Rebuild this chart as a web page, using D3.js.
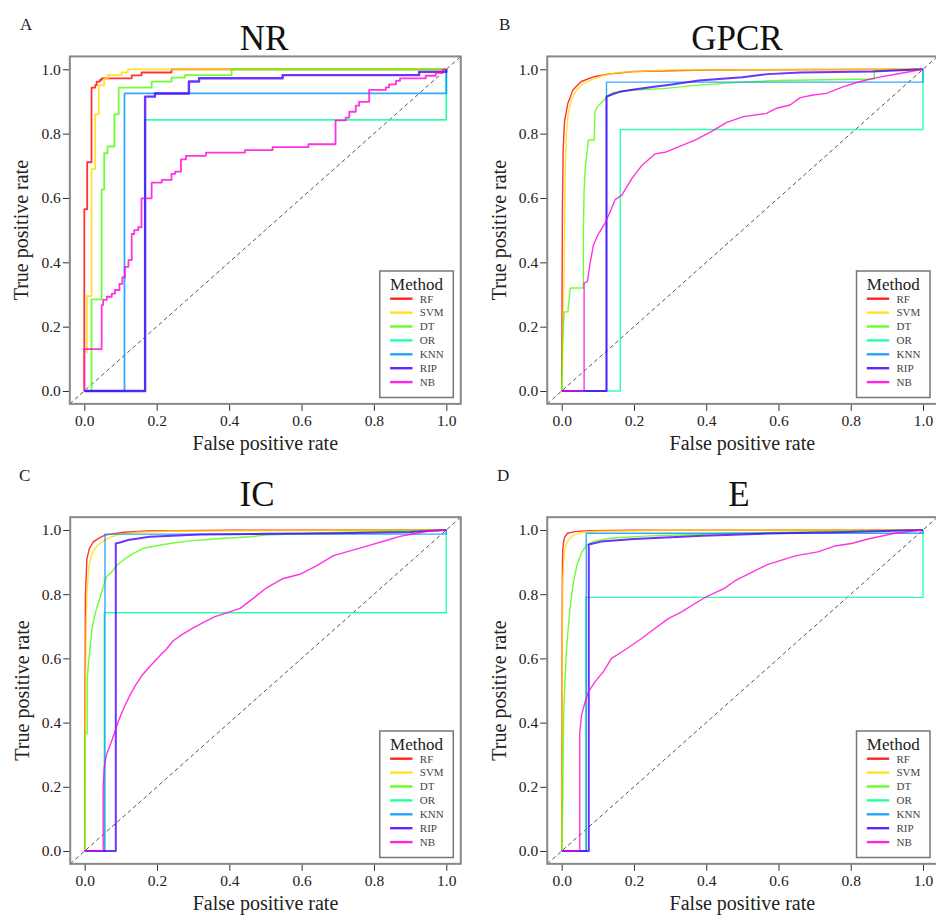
<!DOCTYPE html>
<html>
<head>
<meta charset="utf-8">
<script src="https://cdn.jsdelivr.net/npm/d3@7"></script>
<style>
  html, body { margin: 0; padding: 0; background: #fff; }
  svg text { font-family: "Liberation Serif", "Times New Roman", serif; }
</style>
</head>
<body>
<div id="chart"></div>
<script>
// methods and colours (R rainbow(7))
const methods = ['RF', 'SVM', 'DT', 'OR', 'KNN', 'RIP', 'NB']
const colors = ['#FF0000', '#FFDB00', '#49FF00', '#00FF92', '#0092FF', '#4900FF', '#FF00DB']
const tickValues = [0, 0.2, 0.4, 0.6, 0.8, 1.0]

// A. NR  (fpr, tpr)
const NR_RF = [[0,0],[0,0.565],[0.008,0.565],[0.008,0.711],[0.02,0.711],[0.02,0.943],[0.03,0.943],[0.03,0.951],[0.034,0.951],[0.034,0.962],[0.043,0.962],[0.043,0.967],[0.048,0.967],[0.048,0.972],[0.131,0.972],[0.131,0.981],[0.158,0.981],[0.158,0.99],[0.241,0.99],[0.241,1],[1,1]]
const NR_SVM = [[0,0],[0,0.12],[0.007,0.12],[0.007,0.295],[0.02,0.295],[0.02,0.69],[0.03,0.69],[0.03,0.86],[0.04,0.86],[0.04,0.95],[0.055,0.95],[0.055,0.97],[0.065,0.97],[0.065,0.982],[0.103,0.982],[0.103,0.99],[0.12,0.99],[0.12,1],[1,1]]
const NR_DT = [[0,0],[0.02,0],[0.02,0.285],[0.048,0.285],[0.048,0.627],[0.055,0.627],[0.055,0.739],[0.064,0.739],[0.064,0.76],[0.083,0.76],[0.083,0.86],[0.095,0.86],[0.095,0.943],[0.186,0.943],[0.186,0.962],[0.241,0.962],[0.241,0.974],[0.278,0.974],[0.278,0.982],[0.407,0.982],[0.407,1],[1,1]]
const NR_OR = [[0,0],[0.168,0],[0.168,0.843],[1,0.843],[1,1]]
const NR_KNN = [[0,0],[0.111,0],[0.111,0.925],[1,0.925],[1,1]]
const NR_RIP = [[0,0],[0.168,0],[0.168,0.915],[0.195,0.915],[0.195,0.925],[0.289,0.925],[0.289,0.962],[0.317,0.962],[0.317,0.972],[0.548,0.972],[0.548,0.982],[0.925,0.982],[0.925,0.992],[1,0.992],[1,1]]
const NR_NB = [[0,0],[0,0.13],[0.048,0.13],[0.048,0.267],[0.052,0.267],[0.052,0.283],[0.062,0.283],[0.062,0.293],[0.076,0.293],[0.076,0.303],[0.085,0.303],[0.085,0.314],[0.097,0.314],[0.097,0.333],[0.105,0.333],[0.105,0.353],[0.112,0.353],[0.112,0.386],[0.122,0.386],[0.122,0.407],[0.131,0.407],[0.131,0.488],[0.138,0.488],[0.138,0.5],[0.149,0.5],[0.149,0.509],[0.158,0.509],[0.158,0.599],[0.186,0.599],[0.186,0.648],[0.214,0.648],[0.214,0.656],[0.241,0.656],[0.241,0.675],[0.251,0.675],[0.251,0.682],[0.267,0.682],[0.267,0.72],[0.281,0.72],[0.281,0.731],[0.336,0.731],[0.336,0.741],[0.444,0.741],[0.444,0.749],[0.52,0.749],[0.52,0.758],[0.619,0.758],[0.619,0.767],[0.694,0.767],[0.694,0.841],[0.722,0.841],[0.722,0.85],[0.732,0.85],[0.732,0.868],[0.75,0.868],[0.75,0.887],[0.759,0.887],[0.759,0.899],[0.787,0.899],[0.787,0.936],[0.833,0.936],[0.833,0.944],[0.842,0.944],[0.842,0.953],[0.861,0.953],[0.861,0.964],[0.872,0.964],[0.872,0.972],[0.943,0.972],[0.943,0.98],[0.971,0.98],[0.971,0.989],[0.99,0.989],[0.99,0.998],[1,1]]

// B. GPCR
const GPCR_RF = [[0,0],[0.001,0.3],[0.002,0.57],[0.004,0.75],[0.008,0.84],[0.017,0.894],[0.031,0.936],[0.054,0.962],[0.09,0.977],[0.128,0.985],[0.2,0.993],[0.4,0.998],[1,1]]
const GPCR_SVM = [[0,0],[0.002,0.05],[0.004,0.18],[0.008,0.49],[0.01,0.7],[0.013,0.8],[0.018,0.863],[0.027,0.905],[0.041,0.936],[0.059,0.956],[0.082,0.967],[0.11,0.979],[0.156,0.99],[0.294,0.998],[1,1]]
const GPCR_DT = [[0,0],[0.002,0.15],[0.007,0.246],[0.017,0.246],[0.024,0.32],[0.06,0.32],[0.06,0.5],[0.062,0.62],[0.065,0.69],[0.074,0.78],[0.09,0.78],[0.092,0.868],[0.1,0.885],[0.125,0.913],[0.14,0.927],[0.19,0.935],[0.28,0.94],[0.37,0.95],[0.5,0.96],[0.6,0.965],[0.865,0.97],[0.865,0.995],[1,1]]
const GPCR_OR = [[0,0],[0.162,0],[0.162,0.813],[1,0.813],[1,1]]
const GPCR_KNN = [[0,0],[0.124,0],[0.124,0.96],[1,0.96],[1,1]]
const GPCR_RIP = [[0,0],[0.124,0],[0.124,0.915],[0.135,0.92],[0.16,0.93],[0.2,0.937],[0.25,0.945],[0.3,0.952],[0.38,0.965],[0.5,0.975],[0.57,0.985],[0.66,0.99],[0.86,0.993],[1,1]]
const GPCR_NB = [[0,0],[0.062,0],[0.062,0.335],[0.071,0.34],[0.079,0.4],[0.088,0.454],[0.1,0.485],[0.12,0.522],[0.138,0.567],[0.148,0.595],[0.166,0.608],[0.194,0.66],[0.221,0.7],[0.258,0.737],[0.286,0.742],[0.323,0.759],[0.369,0.78],[0.415,0.807],[0.457,0.835],[0.503,0.853],[0.567,0.863],[0.595,0.879],[0.632,0.889],[0.66,0.912],[0.696,0.92],[0.733,0.925],[0.78,0.946],[0.826,0.962],[0.872,0.974],[0.936,0.987],[1,1]]

// C. IC
const IC_RF = [[0,0],[0.001,0.5],[0.002,0.8],[0.004,0.85],[0.006,0.91],[0.013,0.943],[0.024,0.963],[0.038,0.974],[0.056,0.984],[0.1,0.992],[0.17,0.997],[0.4,0.999],[1,1]]
const IC_SVM = [[0,0],[0.002,0.37],[0.004,0.7],[0.006,0.79],[0.009,0.85],[0.012,0.89],[0.02,0.925],[0.033,0.95],[0.052,0.966],[0.075,0.979],[0.1,0.987],[0.145,0.993],[0.25,0.997],[1,1]]
const IC_DT = [[0,0],[0,0.367],[0.007,0.367],[0.007,0.53],[0.01,0.58],[0.015,0.632],[0.019,0.684],[0.026,0.725],[0.033,0.756],[0.042,0.788],[0.05,0.819],[0.061,0.855],[0.075,0.87],[0.089,0.89],[0.112,0.911],[0.135,0.927],[0.162,0.943],[0.199,0.951],[0.236,0.958],[0.291,0.966],[0.347,0.971],[0.402,0.975],[0.457,0.979],[0.5,0.984],[0.69,0.992],[1,1]]
const IC_OR = [[0,0],[0.054,0],[0.054,0.742],[1,0.742],[1,1]]
const IC_KNN = [[0,0],[0.056,0],[0.056,0.987],[1,0.987],[1,1]]
const IC_RIP = [[0,0],[0.086,0],[0.086,0.958],[0.1,0.962],[0.12,0.969],[0.18,0.979],[0.32,0.986],[0.5,0.988],[0.7,0.99],[0.9,0.994],[1,1]]
const IC_NB = [[0,0],[0.051,0],[0.051,0.2],[0.054,0.26],[0.06,0.3],[0.072,0.335],[0.083,0.37],[0.095,0.41],[0.11,0.45],[0.125,0.485],[0.14,0.515],[0.157,0.545],[0.18,0.575],[0.205,0.605],[0.227,0.63],[0.245,0.655],[0.27,0.675],[0.3,0.695],[0.33,0.713],[0.36,0.73],[0.393,0.742],[0.43,0.756],[0.466,0.787],[0.503,0.82],[0.549,0.849],[0.595,0.862],[0.641,0.888],[0.688,0.92],[0.734,0.935],[0.78,0.95],[0.826,0.965],[0.872,0.98],[0.918,0.99],[0.95,0.997],[1,1]]

// D. E
const E_RF = [[0,0],[0.001,0.6],[0.002,0.9],[0.003,0.94],[0.005,0.96],[0.008,0.978],[0.016,0.99],[0.037,0.995],[0.074,0.998],[0.2,0.999],[1,1]]
const E_SVM = [[0,0],[0.001,0.3],[0.002,0.7],[0.003,0.84],[0.005,0.9],[0.009,0.943],[0.018,0.968],[0.032,0.984],[0.055,0.992],[0.092,0.996],[0.3,0.999],[1,1]]
const E_DT = [[0,0],[0.002,0.1],[0.004,0.3],[0.006,0.45],[0.009,0.53],[0.013,0.62],[0.017,0.68],[0.023,0.755],[0.028,0.8],[0.033,0.84],[0.042,0.89],[0.055,0.93],[0.069,0.952],[0.092,0.966],[0.14,0.975],[0.23,0.981],[0.37,0.986],[0.45,0.989],[0.7,0.995],[1,1]]
const E_OR = [[0,0],[0.067,0],[0.067,0.79],[1,0.79],[1,1]]
const E_KNN = [[0,0],[0.068,0],[0.068,0.99],[1,0.99],[1,1]]
const E_RIP = [[0,0],[0.075,0],[0.075,0.955],[0.11,0.964],[0.2,0.972],[0.39,0.982],[0.57,0.989],[0.76,0.993],[1,1]]
const E_NB = [[0,0],[0.05,0],[0.05,0.37],[0.055,0.424],[0.065,0.465],[0.074,0.496],[0.092,0.527],[0.115,0.558],[0.138,0.6],[0.166,0.62],[0.194,0.641],[0.221,0.662],[0.258,0.693],[0.295,0.724],[0.332,0.745],[0.369,0.771],[0.4,0.792],[0.45,0.818],[0.48,0.842],[0.53,0.87],[0.571,0.893],[0.649,0.92],[0.709,0.932],[0.755,0.95],[0.802,0.958],[0.848,0.972],[0.922,0.99],[1,1]]

// panel layout (pixel positions of fpr 0/1 and tpr 1/0)
const panels = [
  { letter: 'A', title: 'NR', curves: [NR_RF, NR_SVM, NR_DT, NR_OR, NR_KNN, NR_RIP, NR_NB],
    x0: 84.3, x1: 446.3, yTop: 69.3, yBot: 391, titleX: 264, titleY: 50, letterX: 20, letterY: 30, lw: 1.8 },
  { letter: 'B', title: 'GPCR', curves: [GPCR_RF, GPCR_SVM, GPCR_DT, GPCR_OR, GPCR_KNN, GPCR_RIP, GPCR_NB],
    x0: 561.7, x1: 923, yTop: 69.3, yBot: 391, titleX: 737, titleY: 50, letterX: 499, letterY: 30, lw: 1.4 },
  { letter: 'C', title: 'IC', curves: [IC_RF, IC_SVM, IC_DT, IC_OR, IC_KNN, IC_RIP, IC_NB],
    x0: 84.7, x1: 446.3, yTop: 530, yBot: 851, titleX: 257, titleY: 506, letterX: 19, letterY: 481, lw: 1.4 },
  { letter: 'D', title: 'E', curves: [E_RF, E_SVM, E_DT, E_OR, E_KNN, E_RIP, E_NB],
    x0: 561.7, x1: 923, yTop: 530, yBot: 851, titleX: 739, titleY: 506, letterX: 497, letterY: 481, lw: 1.4 }
]

const svg = d3.select('#chart')
  .append('svg')
  .attr('width', 936)
  .attr('height', 915)

panels.forEach((p, pi) => {
  const x = d3.scaleLinear().domain([0, 1]).range([p.x0, p.x1])
  const y = d3.scaleLinear().domain([0, 1]).range([p.yBot, p.yTop])
  const g = svg.append('g')

  const bx0 = x(-0.04), bx1 = x(1.04), by0 = y(1.04), by1 = y(-0.04)

  g.append('clipPath').attr('id', `clip${pi}`)
    .append('rect')
    .attr('x', bx0).attr('y', by0)
    .attr('width', bx1 - bx0).attr('height', by1 - by0)

  // axes
  const xAxis = g.append('g')
    .attr('transform', `translate(0,${by1})`)
    .call(d3.axisBottom(x).tickValues(tickValues).tickSize(7).tickPadding(4).tickFormat(d3.format('.1f')))
  const yAxis = g.append('g')
    .attr('transform', `translate(${bx0},0)`)
    .call(d3.axisLeft(y).tickValues(tickValues).tickSize(7).tickPadding(2).tickFormat(d3.format('.1f')))
  ;[xAxis, yAxis].forEach(a => {
    a.select('.domain').remove()
    a.selectAll('line').attr('stroke', '#333').attr('stroke-width', 1)
    a.selectAll('text')
      .attr('fill', '#222')
      .style('font-family', '"Liberation Serif", serif')
      .style('font-size', '15.5px')
  })

  // diagonal
  g.append('line')
    .attr('x1', bx0).attr('y1', by1)
    .attr('x2', bx1).attr('y2', by0)
    .attr('stroke', '#555')
    .attr('stroke-width', 1)
    .attr('stroke-dasharray', '4,3')

  // curves
  const line = d3.line().x(d => x(d[0])).y(d => y(d[1]))
  g.append('g')
    .attr('clip-path', `url(#clip${pi})`)
    .selectAll('path')
    .data(p.curves)
    .join('path')
    .attr('d', line)
    .attr('fill', 'none')
    .attr('stroke', (d, i) => colors[i])
    .attr('stroke-opacity', 0.8)
    .attr('stroke-width', (d, i) => (i === 5 ? p.lw + 0.6 : p.lw))
    .attr('stroke-linejoin', 'round')

  // box
  g.append('rect')
    .attr('x', bx0).attr('y', by0)
    .attr('width', bx1 - bx0).attr('height', by1 - by0)
    .attr('fill', 'none')
    .attr('stroke', '#888')
    .attr('stroke-width', 2)

  // legend
  const lgW = 73.5, lgH = 126.5
  const lgX = x(1) + 7 - lgW, lgY = y(0) + 6.5 - lgH
  const lg = g.append('g').attr('transform', `translate(${lgX},${lgY})`)
  lg.append('rect')
    .attr('width', lgW).attr('height', lgH)
    .attr('fill', '#fff')
    .attr('stroke', '#777')
    .attr('stroke-width', 1.5)
  lg.append('text')
    .attr('x', lgW / 2).attr('y', 18.7)
    .attr('text-anchor', 'middle')
    .style('font-size', '17px')
    .attr('fill', '#222')
    .text('Method')
  const item = lg.selectAll('g.item')
    .data(methods)
    .join('g')
    .attr('class', 'item')
    .attr('transform', (d, i) => `translate(0,${27.7 + i * 13.9})`)
  item.append('line')
    .attr('x1', 10.3).attr('x2', 32.7)
    .attr('stroke', (d, i) => colors[i])
    .attr('stroke-opacity', 0.85)
    .attr('stroke-width', 2.4)
  item.append('text')
    .attr('x', 40).attr('dy', '0.35em')
    .style('font-size', '11px')
    .attr('fill', '#444')
    .text(d => d)

  // titles and labels
  g.append('text')
    .attr('x', p.titleX).attr('y', p.titleY)
    .attr('text-anchor', 'middle')
    .style('font-size', '35px')
    .attr('fill', '#111')
    .text(p.title)
  g.append('text')
    .attr('x', p.letterX).attr('y', p.letterY)
    .style('font-size', '17px')
    .attr('fill', '#222')
    .text(p.letter)
  g.append('text')
    .attr('x', x(0.5)).attr('y', by1 + 46.5)
    .attr('text-anchor', 'middle')
    .style('font-size', '20px')
    .attr('fill', '#222')
    .text('False positive rate')
  g.append('text')
    .attr('transform', `translate(${p.x0 - 63},${(by0 + by1) / 2}) rotate(-90)`)
    .attr('text-anchor', 'middle')
    .attr('dy', '0.35em')
    .style('font-size', '20px')
    .attr('fill', '#222')
    .text('True positive rate')
})
</script>
</body>
</html>
